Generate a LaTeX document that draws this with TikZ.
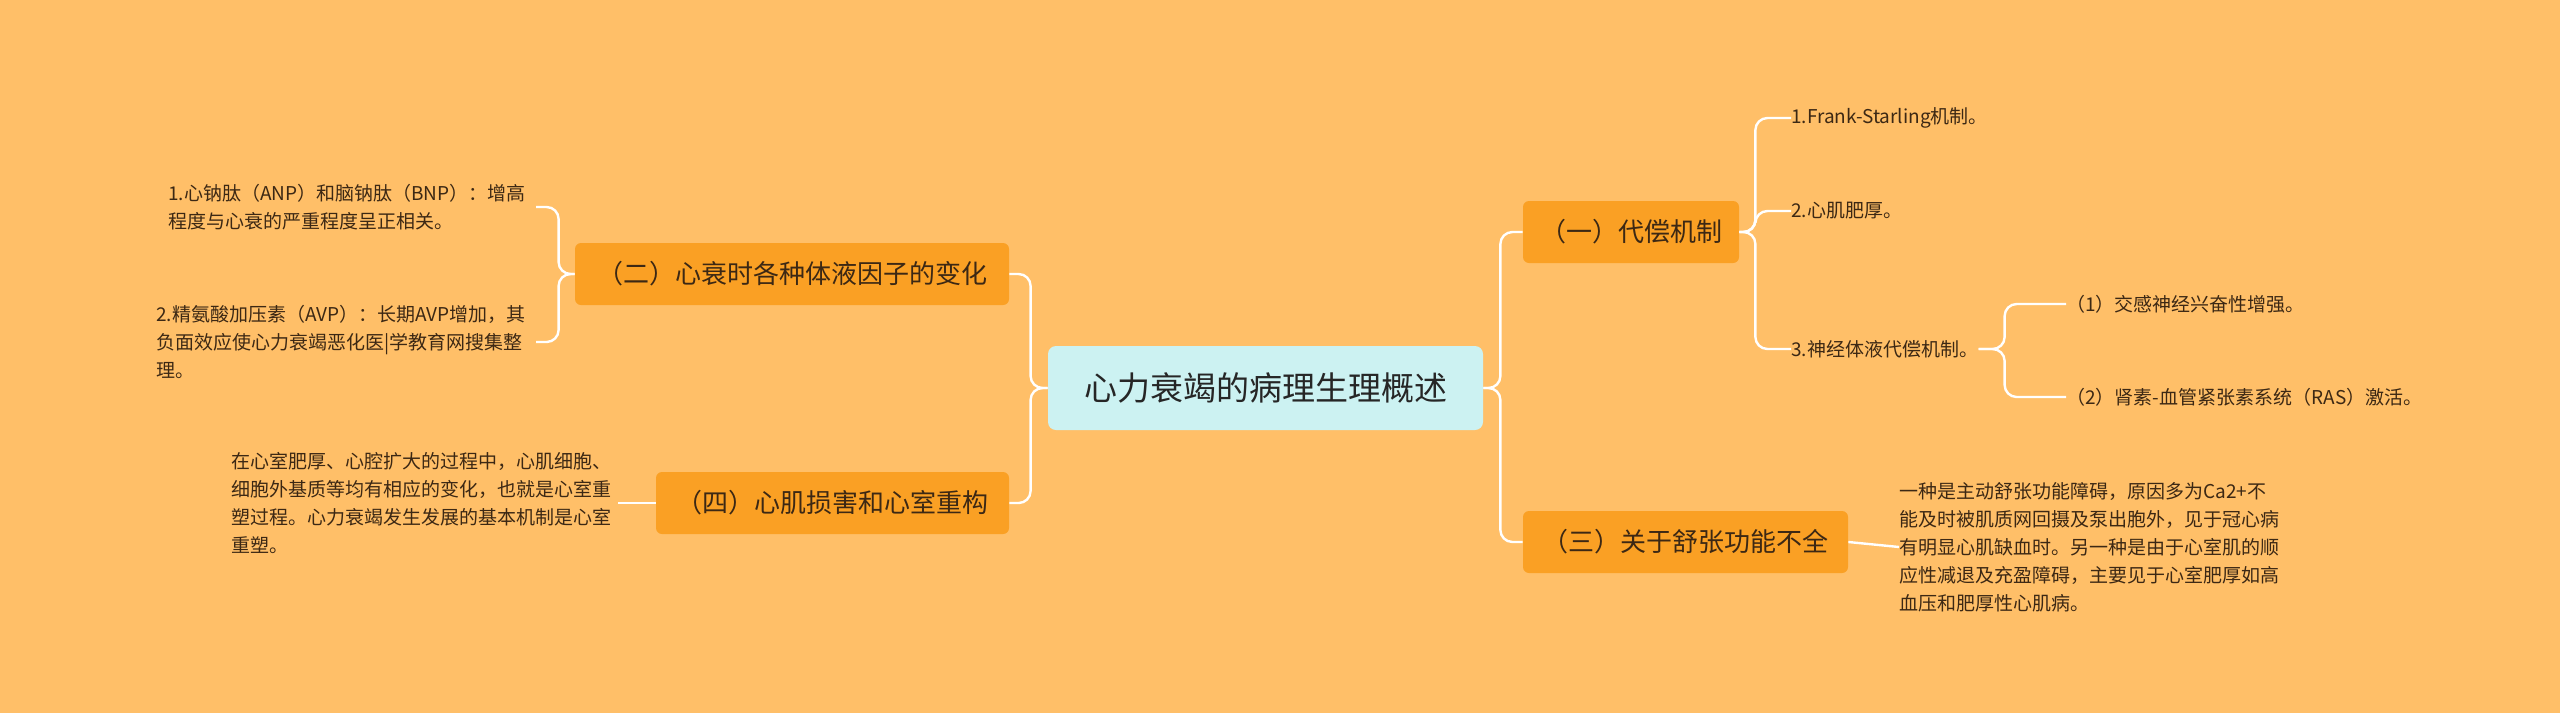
\documentclass[tikz,border=0pt]{standalone}
\usepackage{fontspec}
\setmainfont{Noto Sans CJK SC}
\definecolor{bg}{RGB}{255,191,104}
\definecolor{br}{RGB}{250,160,36}
\definecolor{tx}{RGB}{60,40,20}
\definecolor{cc}{RGB}{204,242,242}
\begin{document}
\begin{tikzpicture}[x=0.5pt,y=-0.5pt,
  conn/.style={draw=white,line width=1.2pt,rounded corners=6pt},
  branch/.style={fill=br,rounded corners=3pt,inner sep=0pt,font=\fontsize{13pt}{15pt}\selectfont,text=tx},
  leaf/.style={anchor=west,inner sep=0pt,align=left,font=\fontsize{9.5pt}{14pt}\selectfont,text=tx}]
\fill[bg] (0,0) rectangle (2560,713);
\useasboundingbox (0,0) rectangle (2560,713);
\node[fill=cc,rounded corners=4pt,minimum width=217.5pt,minimum height=42pt,inner sep=0pt,font=\fontsize{16.5pt}{19pt}\selectfont,text=black!85] (c) at (1265.5,388) {心力衰竭的病理生理概述};
\node[branch,minimum width=108pt,minimum height=31pt] (b1) at (1631,232) {（一）代偿机制};
\node[branch,minimum width=162.5pt,minimum height=31pt] (b3) at (1685.5,542) {（三）关于舒张功能不全};
\node[branch,minimum width=217pt,minimum height=31pt] (b2) at (792,274) {（二）心衰时各种体液因子的变化};
\node[branch,minimum width=176.5pt,minimum height=31pt] (b4) at (832.5,503) {（四）心肌损害和心室重构};
\draw[conn] (c.east) -- ++(17,0) |- (b1.west);
\draw[conn] (c.east) -- ++(17,0) |- (b3.west);
\draw[conn] (c.west) -- ++(-17,0) |- (b2.east);
\draw[conn] (c.west) -- ++(-17,0) |- (b4.east);
\node[leaf] (l1) at (1791,118) {1.Frank-Starling机制。};
\node[leaf] (l2) at (1791,211) {2.心肌肥厚。};
\node[leaf] (l3) at (1791,349) {3.神经体液代偿机制。};
\draw[conn] (b1.east) -- ++(16,0) |- (l1.west);
\draw[conn] (b1.east) -- ++(16,0) |- (l2.west);
\draw[conn] (b1.east) -- ++(16,0) |- (l3.west);
\node[leaf] (s1) at (2066,304) {（1）交感神经兴奋性增强。};
\node[leaf] (s2) at (2066,397) {（2）肾素-血管紧张素系统（RAS）激活。};
\draw[conn] (l3.east) -- ++(26,0) |- (s1.west);
\draw[conn] (l3.east) -- ++(26,0) |- (s2.west);
\node[leaf] (t3) at (1899,547) {一种是主动舒张功能障碍，原因多为Ca2+不\\能及时被肌质网回摄及泵出胞外，见于冠心病\\有明显心肌缺血时。另一种是由于心室肌的顺\\应性减退及充盈障碍，主要见于心室肥厚如高\\血压和肥厚性心肌病。};
\draw[conn] (b3.east) -- (t3.west);
\node[leaf,anchor=east] (a1) at (526,207) {1.心钠肽（ANP）和脑钠肽（BNP）：增高\\程度与心衰的严重程度呈正相关。};
\node[leaf,anchor=east] (a2) at (526,342) {2.精氨酸加压素（AVP）：长期AVP增加，其\\负面效应使心力衰竭恶化医|学教育网搜集整\\理。};
\draw[conn] (b2.west) -- ++(-16,0) |- ([xshift=5pt]a1.east);
\draw[conn] (b2.west) -- ++(-16,0) |- ([xshift=5pt]a2.east);
\node[leaf,anchor=east] (t4) at (612,503) {在心室肥厚、心腔扩大的过程中，心肌细胞、\\细胞外基质等均有相应的变化，也就是心室重\\塑过程。心力衰竭发生发展的基本机制是心室\\重塑。};
\draw[conn] (b4.west) -- ([xshift=3pt]t4.east);
\end{tikzpicture}
\end{document}
